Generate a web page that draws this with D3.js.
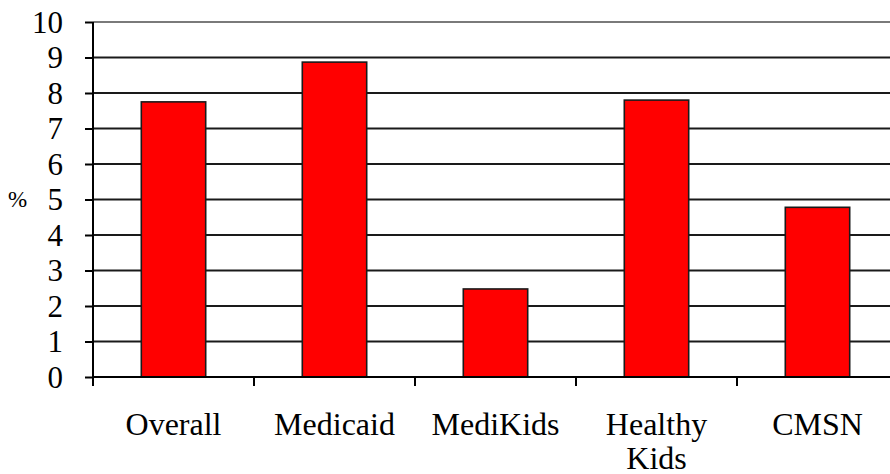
<!DOCTYPE html>
<html>
<head>
<meta charset="utf-8">
<script src="https://cdn.jsdelivr.net/npm/d3@7"></script>
<style>
  html, body { margin: 0; padding: 0; background: #fff; }
  svg { display: block; }
  text { font-family: "Liberation Serif", "Times New Roman", serif; fill: #000; }
</style>
</head>
<body>
<div id="chart"></div>
<script>
const width = 890;
const height = 474;

const categories = ["Overall", "Medicaid", "MediKids", "Healthy Kids", "CMSN"];
const catLines = [["Overall"], ["Medicaid"], ["MediKids"], ["Healthy", "Kids"], ["CMSN"]];
const values = [7.75, 8.87, 2.48, 7.8, 4.78];
const yTicks = [0, 1, 2, 3, 4, 5, 6, 7, 8, 9, 10];

// plot area (runs past the right edge, like the original)
const plotLeft = 93, plotRight = 898, plotTop = 22, plotBottom = 377;

const svg = d3.select("#chart")
  .append("svg")
  .attr("width", width)
  .attr("height", height);

const x = d3.scaleBand()
  .domain(categories)
  .range([plotLeft, plotRight])
  .paddingInner(0.6)
  .paddingOuter(0.3);

const y = d3.scaleLinear()
  .domain([0, 10])
  .range([plotBottom, plotTop]);

// gridlines
svg.selectAll(".grid")
  .data(yTicks.filter(d => d > 0))
  .enter()
  .append("line")
  .attr("class", "grid")
  .attr("x1", plotLeft)
  .attr("x2", plotRight)
  .attr("y1", d => y(d))
  .attr("y2", d => y(d))
  .attr("stroke", d => d === 10 ? "#7a7a7a" : "#1a1a1a")
  .attr("stroke-width", 1.8);

// bars
svg.selectAll(".bar")
  .data(values)
  .enter()
  .append("rect")
  .attr("class", "bar")
  .attr("x", (d, i) => x(categories[i]))
  .attr("width", x.bandwidth())
  .attr("y", d => y(d))
  .attr("height", d => y(0) - y(d))
  .attr("fill", "#ff0000")
  .attr("stroke", "#1a1a1a")
  .attr("stroke-width", 1.6);

// y axis
const yAxis = svg.append("g")
  .attr("transform", `translate(${plotLeft},0)`)
  .call(d3.axisLeft(y).tickValues(yTicks).tickSize(8).tickPadding(22).tickFormat(d3.format("d")));
yAxis.select(".domain").attr("stroke", "#000").attr("stroke-width", 2).attr("d", `M0,${plotTop}V${plotBottom}`);
yAxis.selectAll(".tick line").attr("stroke", "#000").attr("stroke-width", 2);
yAxis.selectAll(".tick text")
  .attr("font-size", 31)
  .attr("font-family", "Liberation Serif, Times New Roman, serif")
  .attr("fill", "#000")
  .attr("dy", "0.33em");

// x axis: ticks sit between the categories
const step = x.step();
const boundaries = d3.range(categories.length + 1).map(i => plotLeft + i * step);
svg.append("line")
  .attr("x1", plotLeft).attr("x2", plotRight)
  .attr("y1", plotBottom).attr("y2", plotBottom)
  .attr("stroke", "#000").attr("stroke-width", 2.2);
svg.selectAll(".xtick")
  .data(boundaries)
  .enter()
  .append("line")
  .attr("class", "xtick")
  .attr("x1", d => d).attr("x2", d => d)
  .attr("y1", plotBottom).attr("y2", plotBottom + 9)
  .attr("stroke", "#000").attr("stroke-width", 2);

// category labels
const labels = svg.selectAll(".xlabel")
  .data(catLines)
  .enter()
  .append("text")
  .attr("class", "xlabel")
  .attr("text-anchor", "middle")
  .attr("font-size", 32)
  .attr("x", (d, i) => x(categories[i]) + x.bandwidth() / 2)
  .attr("y", 435);
labels.selectAll("tspan")
  .data(d => d)
  .enter()
  .append("tspan")
  .attr("x", function() { return d3.select(this.parentNode).attr("x"); })
  .attr("dy", (d, i) => i === 0 ? 0 : 34)
  .text(d => d);

// y axis title
svg.append("text")
  .attr("x", 8)
  .attr("y", 207)
  .attr("font-size", 23)
  .text("%");
</script>
</body>
</html>
